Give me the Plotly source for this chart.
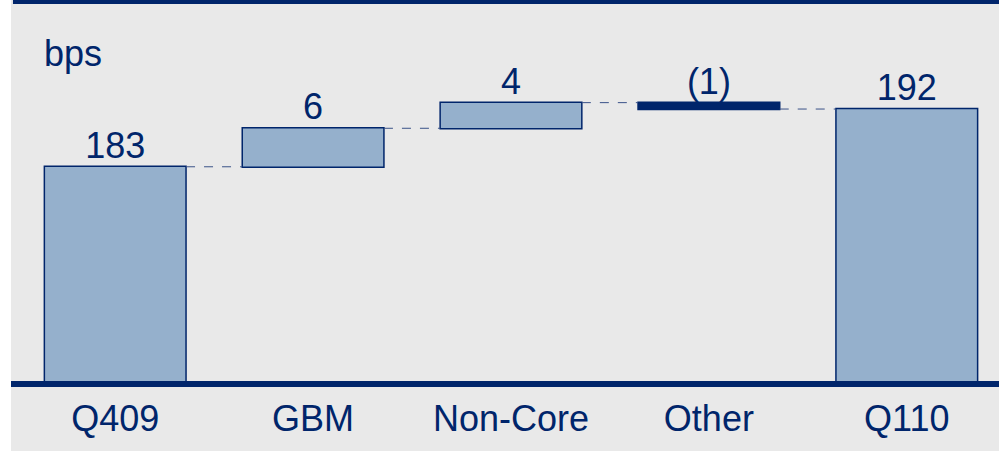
import plotly.graph_objects as go

# ---- data ----
categories = ["Q409", "GBM", "Non-Core", "Other", "Q110"]
values = [183, 6, 4, -1, 192]
measures = ["absolute", "relative", "relative", "relative", "total"]
unit_label = "bps"

# ---- styles ----
NAVY = "#00256B"
BAR = "#95B0CC"
BG = "#E9E9E9"
FONT = "Arial, Liberation Sans, sans-serif"
FS = 36

# label texts and top-of-bar positions derived from the data
def fmt(v):
    return f"({abs(v)})" if v < 0 else f"{v}"

tops = []
running = 0
for v, m in zip(values, measures):
    if m == "absolute":
        start, running = 0, v
    elif m == "total":
        start = 0
    else:
        start, running = running, running + v
    tops.append(max(start, running))
labels = [fmt(v) for v in values]

fig = go.Figure()
fig.add_trace(go.Waterfall(
    x=categories, y=values, measure=measures,
    width=0.716,
    increasing=dict(marker=dict(color=BAR, line=dict(color=NAVY, width=1.5))),
    decreasing=dict(marker=dict(color=NAVY, line=dict(color=NAVY, width=1.5))),
    totals=dict(marker=dict(color=BAR, line=dict(color=NAVY, width=1.5))),
    connector=dict(mode="between", line=dict(color="#3A5288", width=1, dash="dash")),
    showlegend=False, hoverinfo="skip",
))
fig.add_trace(go.Scatter(
    x=categories, y=tops, text=labels, mode="text",
    textposition="top center",
    textfont=dict(family=FONT, size=FS, color=NAVY),
    showlegend=False, hoverinfo="skip", cliponaxis=False,
))

fig.update_layout(
    width=999, height=451,
    margin=dict(l=11, r=0, t=0, b=70),
    paper_bgcolor="white", plot_bgcolor=BG,
    font=dict(family=FONT, size=FS, color=NAVY),
    xaxis=dict(
        range=[-0.5265, 4.466], showgrid=False, zeroline=False,
        showline=True, linecolor=NAVY, linewidth=6,
        ticks="outside", ticklen=1, tickcolor="rgba(0,0,0,0)",
        tickfont=dict(family=FONT, size=FS, color=NAVY),
        fixedrange=True,
    ),
    yaxis=dict(
        range=[149.6, 209.0], showgrid=False, zeroline=False,
        showticklabels=False, showline=False, fixedrange=True,
    ),
    shapes=[
        # gray panel continues below the axis
        dict(type="rect", xref="paper", yref="paper",
             x0=0, x1=1, y0=-71 / 381, y1=0,
             fillcolor=BG, line=dict(width=0), layer="below"),
        # navy top rule
        dict(type="rect", xref="paper", yref="paper",
             x0=0.002, x1=1, y0=1 - 4 / 381, y1=1,
             fillcolor=NAVY, line=dict(width=0), layer="above"),
    ],
    annotations=[
        dict(text=unit_label, xref="paper", yref="paper",
             x=31 / 988, y=1 - 53 / 381, xanchor="left", yanchor="middle",
             showarrow=False, font=dict(family=FONT, size=FS, color=NAVY)),
    ],
)

fig.write_html("out.html")
